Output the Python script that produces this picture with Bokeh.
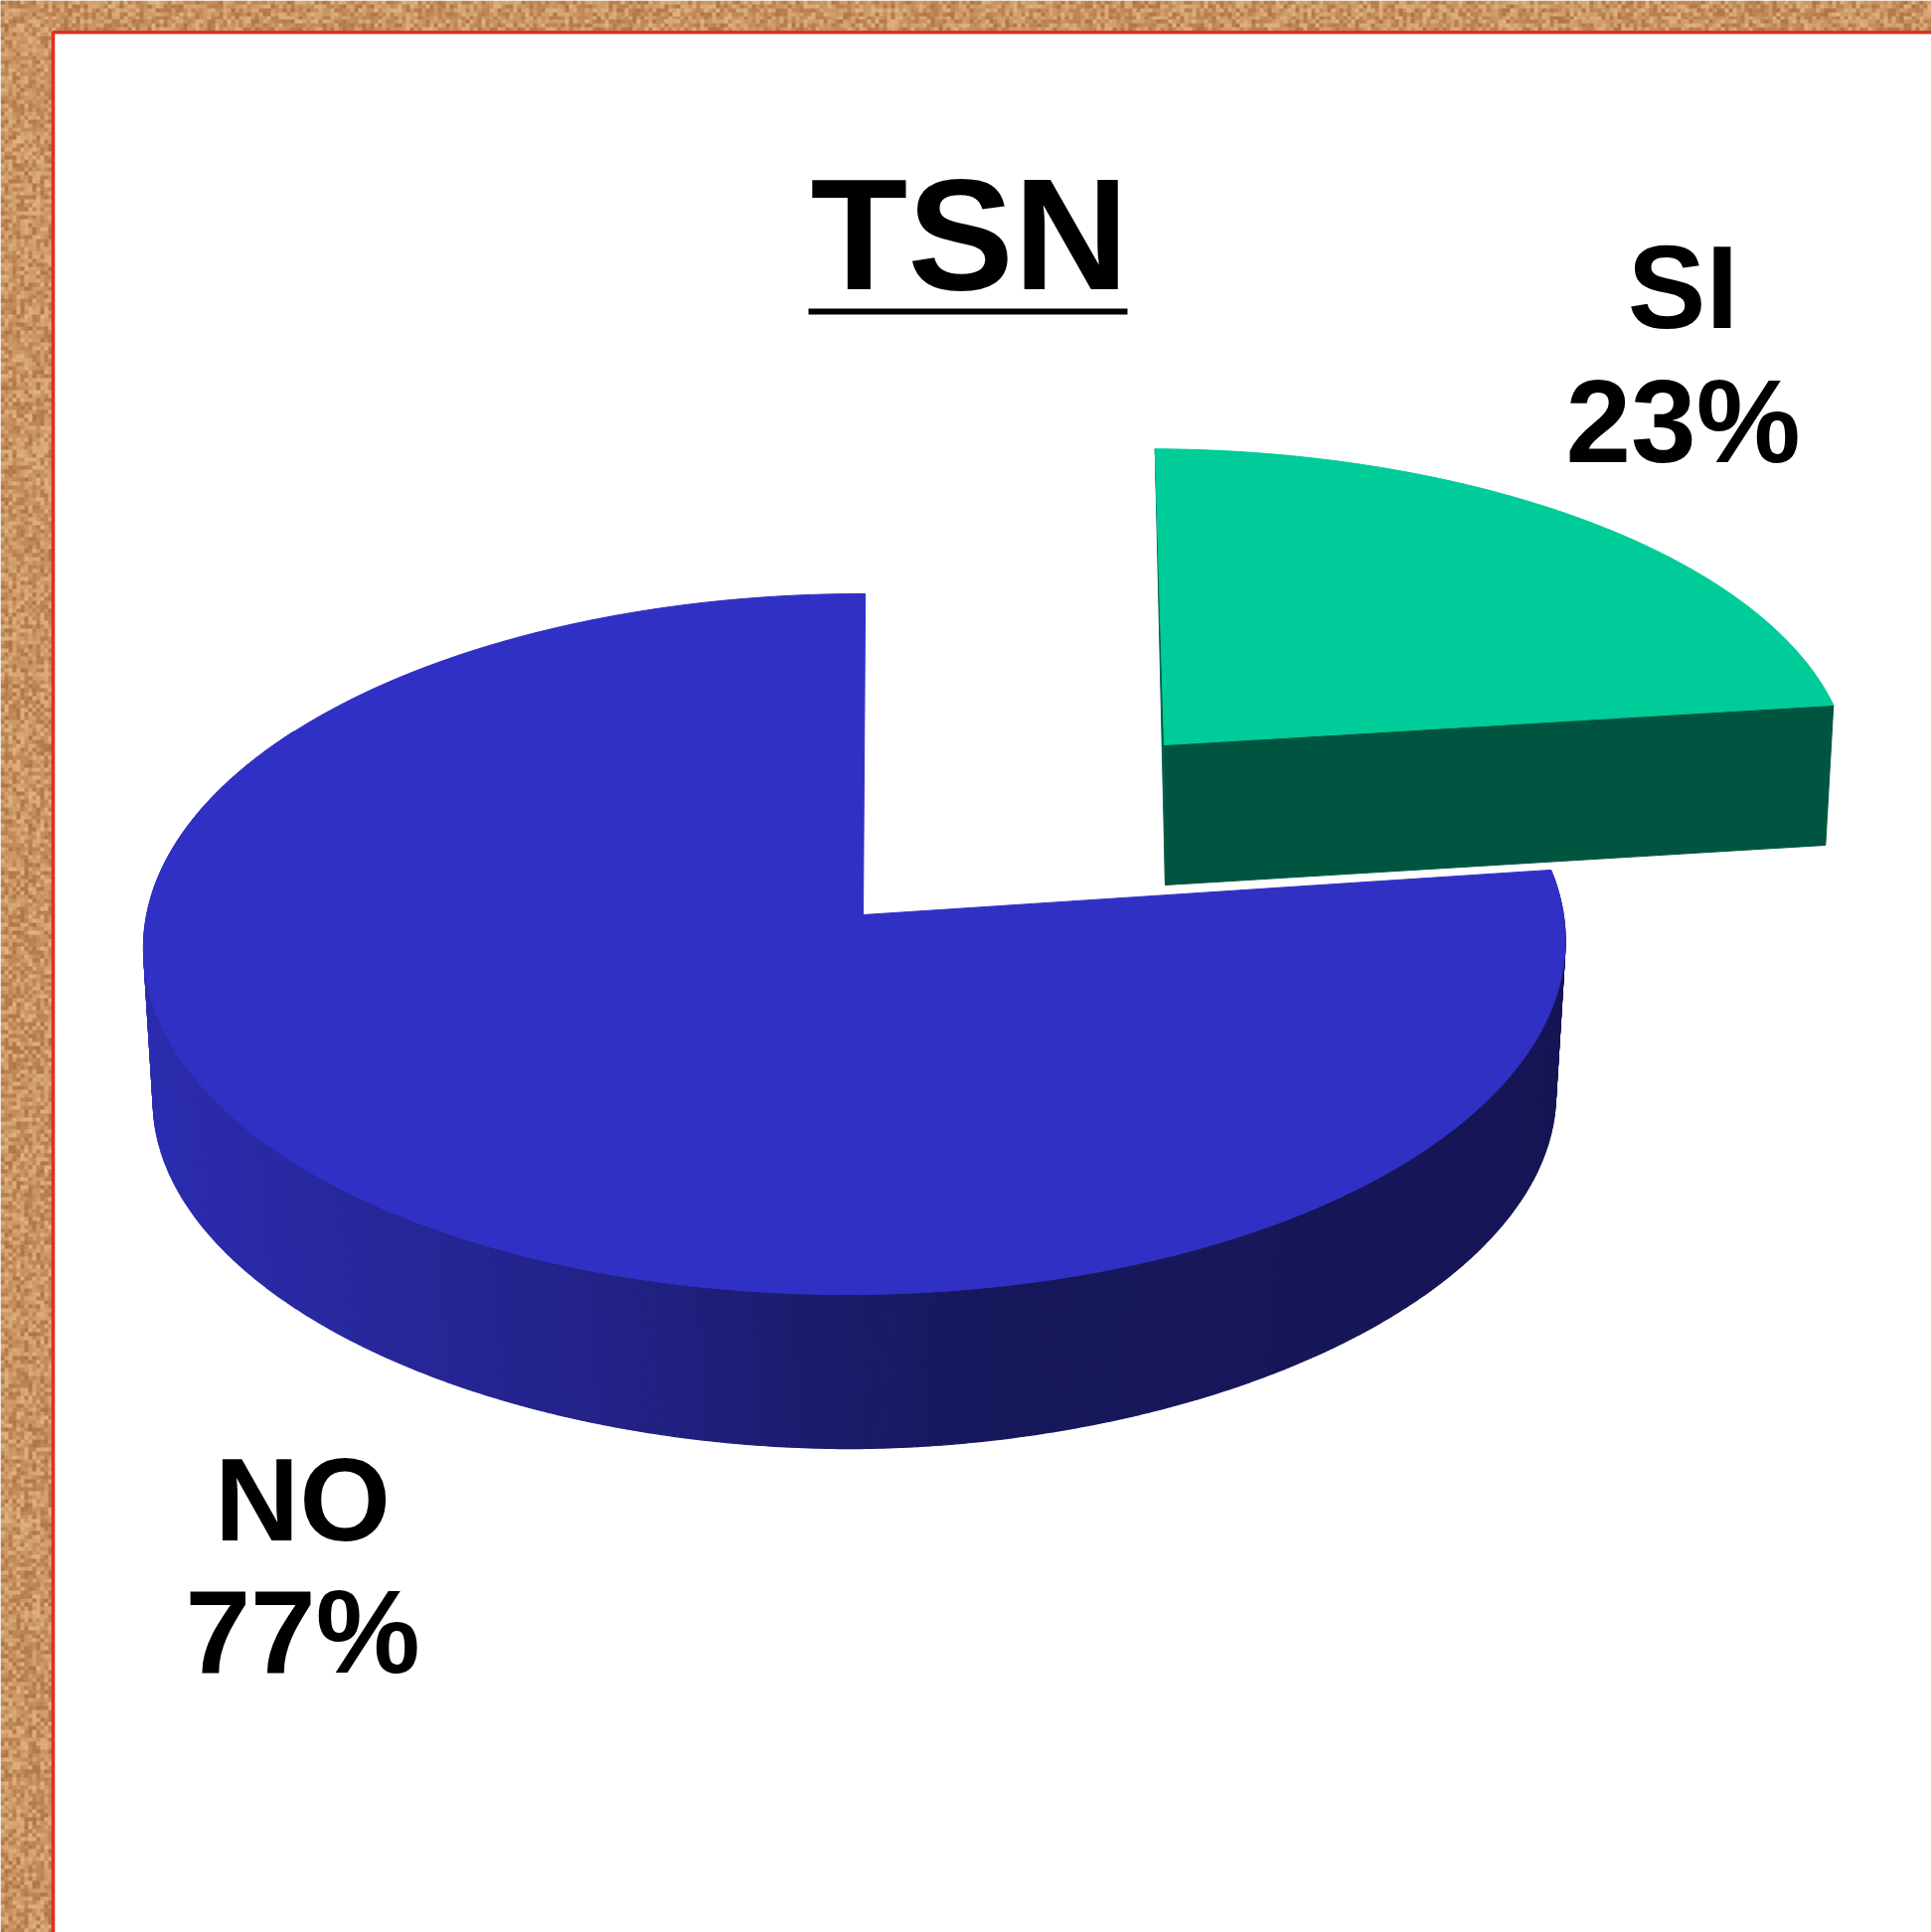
import numpy as np
from bokeh.plotting import figure
from bokeh.models import Range1d, ColumnDataSource
from bokeh.embed import file_html
from bokeh.resources import INLINE
from bokeh.core.properties import value

# ---- chart values
title_text = "TSN"
categories = ["NO", "SI"]
shares = [77, 23]

FONT = value("Liberation Sans")
W, H = 1943, 1944
p = figure(width=W, height=H, x_range=Range1d(0, W), y_range=Range1d(H, 0),
           output_backend="svg", toolbar_location=None, min_border=0, outline_line_color=None,
           background_fill_color="white", border_fill_color="white")
p.axis.visible = False
p.grid.visible = False

# ---- textured frame (deterministic speckle)
def speckle(w, h):
    jj, ii = np.mgrid[0:h, 0:w]
    n = ((ii * 7919 + jj * 104729) ^ (ii * jj * 31 + ii * 13)) % 97 / 96.0 - 0.5
    img = np.zeros((h, w), dtype=np.uint32)
    v = img.view(dtype=np.uint8).reshape((h, w, 4))
    v[..., 0] = np.clip(200 + n * 50, 0, 255)
    v[..., 1] = np.clip(148 + n * 60, 0, 255)
    v[..., 2] = np.clip(98 + n * 60, 0, 255)
    v[..., 3] = 255
    return img

p.image_rgba(image=[speckle(13, 486)], x=[0], y=[0], dw=[52], dh=[1944])
p.image_rgba(image=[speckle(486, 8)], x=[0], y=[0], dw=[1943], dh=[31])
p.line(x=[53, 53, 1943], y=[1944, 32, 32], line_color="#E0301F", line_width=3.5)

# ---- projected pie
def project(share_start, share_end, coef, n=240, power=1.0):
    t = np.radians(np.linspace(share_start, share_end, n) * 3.6)
    s, k = -np.sin(t), np.cos(t)
    u, v = np.sign(s) * np.abs(s) ** power, np.sign(k) * np.abs(k) ** power
    A, B, C, D, E, F, c, d = coef
    w = 1 + c * v + d * u
    return (A * u + B * v + C) / w, (E * u + D * v + F) / w

no_coef = (723, 75, 868, -273, 8.7, 920, 0.0837, 0.0119)
si_coef = (709, 88, 1171, -260, 8.4, 749, 0.0837, 0.0119)

def no_lower(x, y):
    return 860 + (x - 860) * 0.987, y * 0.987 + 172

def si_lower(x, y):
    return 1172 + (x - 1171) * (664 / 673), y + 141

no_start, no_end = 0, shares[0]
si_start, si_end = shares[0], 100

# side wall of NO, drawn as narrow strips shaded with x
stops_x = [144, 420, 615, 810, 1000, 1580]
stops_c = np.array([[44, 44, 176], [38, 38, 150], [34, 34, 135], [28, 28, 110], [23, 23, 92], [22, 22, 86]], dtype=float)
x_top, y_top = project(no_start, no_end, no_coef, n=600)
x_low, y_low = no_lower(*project(no_start, no_end, no_coef, n=600, power=1.03))
xs, ys, cols = [], [], []
for i in range(len(x_top) - 1):
    if y_low[i] < 900:
        continue
    xs.append([x_top[i], x_top[i + 1], x_low[i + 1], x_low[i]])
    ys.append([y_top[i], y_top[i + 1], y_low[i + 1], y_low[i]])
    m = (x_top[i] + x_top[i + 1]) / 2
    rgb = [np.interp(m, stops_x, stops_c[:, k]) for k in range(3)]
    cols.append("#%02x%02x%02x" % tuple(int(round(a)) for a in rgb))
p.patches(xs, ys, fill_color=cols, line_color=cols, line_width=1.2)

# top of NO
p.patch(np.r_[no_coef[2], x_top], np.r_[no_coef[5], y_top], fill_color="#3130C5", line_color="#3130C5", line_width=1)

# SI: side faces, then top
sx, sy = project(si_start, si_end, si_coef)
ax, ay = si_coef[2], si_coef[5]
lax, lay = si_lower(ax, ay)
lsx, lsy = si_lower(sx, sy)
p.patch([sx[0], ax, lax, lsx[0]], [sy[0], ay, lay, lsy[0]], fill_color="#005540", line_color="#005540")
p.patch([sx[-1], ax, lax], [sy[-1], ay, lay], fill_color="#00604A", line_color="#00604A")
p.patch(np.r_[ax, sx], np.r_[ay, sy], fill_color="#00CC99", line_color="#00CC99", line_width=1)

# ---- texts (Bokeh places the alphabetic baseline about 0.35 em below y)
SH = 0.35
TITLE_FS, LABEL_FS = 160, 118
p.text(x=[975], y=[291 - SH * TITLE_FS], text=[title_text], text_font=FONT, text_font_style="bold",
       text_font_size=f"{TITLE_FS}px", text_align="center", text_baseline="alphabetic", text_color="black")
p.line(x=[813, 1134], y=[313, 313], line_color="black", line_width=6)

label_src = ColumnDataSource(dict(
    x=[304, 304, 1693, 1693],
    y=[1550 - SH * LABEL_FS, 1683 - SH * LABEL_FS, 330 - SH * LABEL_FS, 465 - SH * LABEL_FS],
    t=[categories[0], f"{shares[0]}%", categories[1], f"{shares[1]}%"],
))
p.text(x="x", y="y", text="t", source=label_src, text_font=FONT, text_font_style="bold",
       text_font_size=f"{LABEL_FS}px", text_align="center", text_baseline="alphabetic", text_color="black")

open("out.html", "w").write(file_html(p, INLINE))
